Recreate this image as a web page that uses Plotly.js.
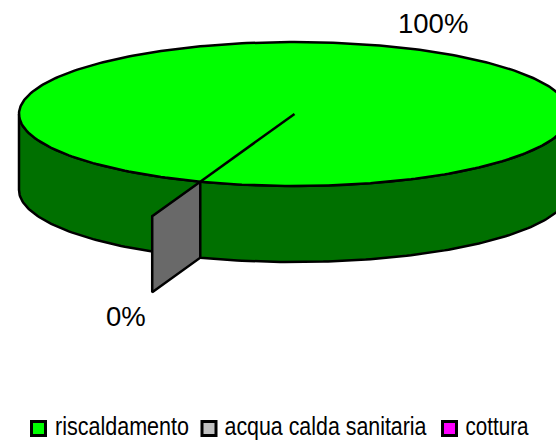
<!DOCTYPE html>
<html><head><meta charset="utf-8">
<script src="https://cdn.plot.ly/plotly-3.0.1.min.js"></script>
<style>html,body{margin:0;padding:0;background:#fff}#c{width:556px;height:442px}</style>
</head><body><div id="c"></div>
<script>
var categories = ['riscaldamento', 'acqua calda sanitaria', 'cottura'];
var values = [100, 0, 0];
var percentLabels = ['100%', '0%'];
var topColors = ['#00FF00', '#C0C0C0', '#FF00FF'];
var wallColors = ['#007000', '#696969', '#800080'];

var W = 556, H = 442;
var cx = 294.5, cy = 114, rx = 275.5, ry = 72, depth = 76;
var startDeg = 110;      // pie rotation, in ellipse parameter degrees
var wallReach = 1.51;    // how far the zero-size slice wall sticks out
var lw = 2.5, ink = '#000';
var total = values.reduce(function (a, b) { return a + b; }, 0);

function px(deg) { return cx + rx * Math.cos(deg * Math.PI / 180); }
function py(deg) { return cy + ry * Math.sin(deg * Math.PI / 180); }
function poly(xs, ys, fill) {
  return {x: xs, y: ys, mode: 'lines', fill: 'toself', fillcolor: fill,
          line: {color: ink, width: lw, shape: 'linear'}, hoverinfo: 'skip', showlegend: false};
}
function rng(a, b, step) { var o = []; for (var d = a; d <= b + 1e-6; d += step) o.push(d); return o; }

var traces = [];
var angle = startDeg;
var spans = values.map(function (v) { var s = {a: angle, b: angle + 360 * v / total}; angle = s.b; return s; });

// largest slice: rim wall along the front half, then its top face
var main = spans[0];
var front = rng(0, 180, 1);
var sx = front.map(px), sy = front.map(py);
var bx = sx.slice().reverse(), by = sy.slice().reverse().map(function (y) { return y + depth; });
traces.push(poly(sx.concat(bx, [sx[0]]), sy.concat(by, [sy[0]]), wallColors[0]));

var topAngles = rng(main.a, main.b, 1);
traces.push(poly(topAngles.map(px), topAngles.map(py), topColors[0]));

// radius line to the slice boundary
var ex = px(main.a), ey = py(main.a);
traces.push({x: [cx, ex], y: [cy, ey], mode: 'lines', line: {color: ink, width: lw},
             hoverinfo: 'skip', showlegend: false});

// zero-size slice: only its flat wall is visible
var ox = cx + (ex - cx) * wallReach, oy = cy + (ey - cy) * wallReach;
traces.push(poly([ex, ox, ox, ex, ex], [ey, oy, oy + depth, ey + depth, ey], wallColors[1]));

// legend keys and labels
var keyX = [38.5, 209, 449.5], keyY = 428.5, labelX = [55, 224.5, 465.5];
var labelWidths = [134, 202, 63];
traces.push({x: keyX, y: keyX.map(function () { return keyY; }), mode: 'markers',
             marker: {symbol: 'square', size: 14, color: topColors, line: {color: ink, width: 3}},
             hoverinfo: 'skip', showlegend: false});
traces.push({x: labelX, y: labelX.map(function () { return keyY + 0.5; }), mode: 'text', text: categories,
             textposition: 'middle right', cliponaxis: false,
             textfont: {family: 'Liberation Sans, Arial, sans-serif', size: 25, color: '#000'},
             hoverinfo: 'skip', showlegend: false});

var pctPos = [[432.5, 23], [126, 316]];
var annotations = percentLabels.map(function (t, i) {
  return {text: t, x: pctPos[i][0], y: pctPos[i][1], xref: 'x', yref: 'y',
          xanchor: 'center', yanchor: 'middle', showarrow: false,
          font: {family: 'Liberation Sans, Arial, sans-serif', size: 27.5, color: '#000'}};
});

var axis = {visible: false, fixedrange: true, showgrid: false, zeroline: false};
Plotly.newPlot('c', traces, {
  width: W, height: H, margin: {l: 0, r: 0, t: 0, b: 0, pad: 0},
  paper_bgcolor: '#fff', plot_bgcolor: '#fff', showlegend: false,
  xaxis: Object.assign({range: [0, W]}, axis),
  yaxis: Object.assign({range: [H, 0]}, axis),
  annotations: annotations
}, {displayModeBar: false, staticPlot: true}).then(function () {
  // the reference legend text is horizontally condensed
  document.querySelectorAll('#c .textpoint text').forEach(function (el, i) {
    el.setAttribute('textLength', labelWidths[i]);
    el.setAttribute('lengthAdjust', 'spacingAndGlyphs');
  });
});
</script></body></html>
